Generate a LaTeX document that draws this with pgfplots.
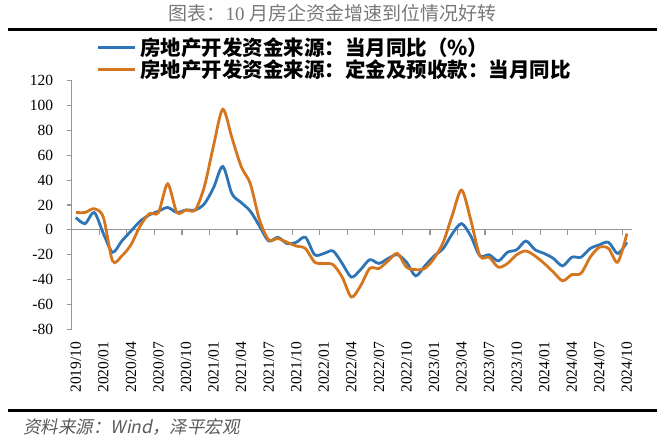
\documentclass[border=0pt]{standalone}
\usepackage{fontspec}
\setmainfont{Liberation Serif}
\newfontfamily\tnr{Liberation Serif}
\newfontfamily\cjk{Noto Sans CJK SC}
\newfontfamily\cjksl{Noto Sans CJK SC}[FakeSlant=0.2]
\usepackage{pgfplots}
\usepackage{pgfplotstable}
\pgfplotsset{compat=1.18}
\definecolor{sblue}{HTML}{2E75B6}
\definecolor{sorange}{HTML}{D5761E}
\definecolor{axgray}{RGB}{150,150,150}
\definecolor{titlegray}{RGB}{120,120,120}
\definecolor{srcgray}{RGB}{90,90,90}
\newcommand{\tl}[1]{\mbox{\tnr #1}}

\pgfplotstableread{
i blue orange
0 10 14
1 5 14
2 14 17
3 -3 10
4 -18 -25
5 -9 -21
6 -1 -12
7 7 3
8 12 13
9 15 14
10 18 37
11 14 14
12 16 16
13 16 16
14 21 35
15 34 68
16 51 97
17 29 74
18 22 51
19 15 37
20 3 8
21 -9 -8
22 -6 -7
23 -11 -10
24 -10 -13
25 -6 -15
26 -20 -26
27 -19 -27
28 -17 -28
29 -27 -38
30 -38 -54
31 -32 -45
32 -24 -31
33 -27 -31
34 -23 -25
35 -20 -19
36 -26 -30
37 -37 -32
38 -29 -31
39 -21 -23
40 -15 -10
41 -3 12
42 5 32
43 -5 8
44 -21 -21
45 -20 -22
46 -25 -30
47 -18 -27
48 -16 -20
49 -9 -17
50 -16 -21
51 -19 -27
52 -23 -34
53 -29 -41
54 -22 -36
55 -22 -35
56 -15 -22
57 -12 -14
58 -10 -15
59 -19 -26
60 -10 -3
}\datatable

\begin{document}
\begin{tikzpicture}
\path[use as bounding box] (0pt,0pt) rectangle (660pt,440pt);
\begin{axis}[
  at={(71.7pt,110.7pt)}, anchor=south west, scale only axis,
  width=559.8pt, height=248.6pt,
  xmin=-0.45, xmax=60.5, ymin=-80, ymax=120,
  axis lines*=left,
  x axis line style={draw=none},
  y axis line style={axgray, line width=1.2pt},
  xtick={0,3,...,60},
  xticklabels={\tl{2019/10},\tl{2020/01},\tl{2020/04},\tl{2020/07},\tl{2020/10},\tl{2021/01},\tl{2021/04},\tl{2021/07},\tl{2021/10},\tl{2022/01},\tl{2022/04},\tl{2022/07},\tl{2022/10},\tl{2023/01},\tl{2023/04},\tl{2023/07},\tl{2023/10},\tl{2024/01},\tl{2024/04},\tl{2024/07},\tl{2024/10}},
  x tick style={draw=none},
  xticklabel style={rotate=90, anchor=east, inner sep=0pt, font=\tnr\fontsize{15.5}{16}\selectfont},
  xticklabel shift=7.4pt,
  ytick={-80,-60,...,120},
  yticklabels={\tl{-80},\tl{-60},\tl{-40},\tl{-20},\tl{0},\tl{20},\tl{40},\tl{60},\tl{80},\tl{100},\tl{120}},
  y tick style={axgray, line width=1.2pt},
  tick align=outside,
  major tick length=5pt,
  yticklabel style={anchor=east, inner sep=0pt, font=\tnr\fontsize{15.5}{16}\selectfont},
  yticklabel shift=13.4pt,
  clip=false,
]
\draw[axgray, line width=1.2pt] (axis cs:-0.45,0) -- (axis cs:60.5,0);
\pgfplotsinvokeforeach{1,...,20}{\draw[axgray, line width=1.2pt] (axis cs:{3*#1-0.45},0) -- ++(0pt,-5pt);}
\addplot[sblue, line width=2.8pt, smooth] table[x=i,y=blue]{\datatable};
\addplot[sorange, line width=2.8pt, smooth] table[x=i,y=orange]{\datatable};
\end{axis}
\node[font=\cjk\fontsize{19}{20}\selectfont, text=titlegray] at (332.5pt,426.7pt) {图表：\tnr 10 \cjk 月房企资金增速到位情况好转};
\draw[black, line width=3pt] (8pt,410.7pt) -- (657pt,410.7pt);
\draw[sblue, line width=3pt] (98.3pt,392.7pt) -- (135pt,392.7pt);
\draw[sorange, line width=3pt] (98.3pt,370pt) -- (135pt,370pt);
\node[anchor=west, inner sep=0pt, font=\cjk\bfseries\fontsize{20.5}{21}\selectfont] at (140pt,392.7pt) {房地产开发资金来源：当月同比（\%）};
\node[anchor=west, inner sep=0pt, font=\cjk\bfseries\fontsize{20.5}{21}\selectfont] at (140pt,370pt) {房地产开发资金来源：定金及预收款：当月同比};
\draw[black, line width=3pt] (8pt,30pt) -- (657pt,30pt);
\node[anchor=west, inner sep=0pt, font=\cjksl\fontsize{17.5}{18}\selectfont, text=srcgray] at (23pt,13.3pt) {资料来源：Wind，泽平宏观};
\end{tikzpicture}
\end{document}
